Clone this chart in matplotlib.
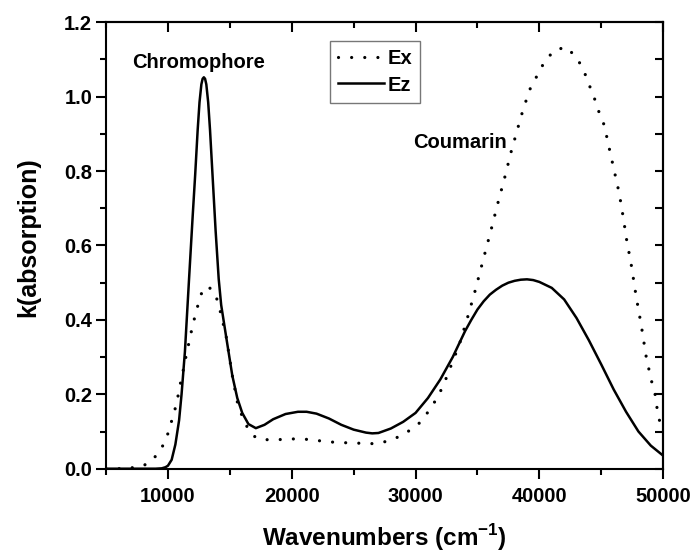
import matplotlib
matplotlib.use("Agg")
import matplotlib.pyplot as plt
from matplotlib.ticker import MultipleLocator

plt.rcParams['font.family'] = ['Liberation Sans', 'DejaVu Sans']
plt.rcParams['font.weight'] = 'bold'
plt.rcParams['mathtext.fontset'] = 'custom'
plt.rcParams['mathtext.rm'] = 'Liberation Sans:bold'
plt.rcParams['mathtext.bf'] = 'Liberation Sans:bold'

# Ez curve (solid)
wn_ez = [5000, 7000, 9000, 9500, 9800, 10000, 10300, 10600, 10900, 11100, 11370,
         11700, 12000, 12200, 12400, 12550, 12700, 12800, 12900, 13000, 13100,
         13250, 13400, 13600, 13850, 14100, 14300, 14700, 15200, 15600, 16000,
         16500, 17100, 17800, 18500, 19500, 20500, 21200, 22000, 23000, 24000,
         25000, 26000, 26500, 27000, 28000, 29000, 30000, 31000, 32000, 33000,
         33500, 34000, 34500, 35000, 35500, 36000, 36500, 37000, 37500, 38000,
         38500, 39000, 39500, 40000, 41000, 42000, 43000, 44000, 45000, 46000,
         47000, 48000, 49000, 50000]
k_ez = [0.0, 0.0, 0.0, 0.001, 0.004, 0.008, 0.024, 0.065, 0.13, 0.2, 0.314,
        0.507, 0.68, 0.79, 0.91, 0.985, 1.033, 1.048, 1.052, 1.048, 1.033,
        0.985, 0.91, 0.79, 0.64, 0.51, 0.44, 0.355, 0.25, 0.19, 0.15,
        0.12, 0.109, 0.118, 0.133, 0.147, 0.153, 0.153, 0.148, 0.135, 0.118,
        0.105, 0.097, 0.095, 0.096, 0.108, 0.126, 0.15, 0.19, 0.24, 0.30,
        0.335, 0.37, 0.40, 0.428, 0.45, 0.468, 0.481, 0.492, 0.5, 0.505,
        0.508, 0.509, 0.507, 0.502, 0.486, 0.455, 0.405, 0.345, 0.28, 0.213,
        0.153, 0.1, 0.062, 0.035]

# Ex curve (dotted)
wn_ex = [5000, 6000, 7000, 8000, 8500, 9200, 9760, 10160, 10400, 10730, 10890,
         11130, 11530, 11770, 12000, 12260, 12500, 12800, 13100, 13400, 13790,
         14110, 14350, 14680, 15200, 15600, 16000, 16500, 16850, 17300, 17820,
         18870, 19840, 20890, 22000, 23060, 24110, 25240, 26050, 27000, 28150,
         29270, 30320, 31300, 32200, 32900, 33550, 34220, 34760, 35560, 36100,
         36640, 37180, 37720, 38550, 39190, 39840, 40400, 41210, 42180, 43060,
         43630, 44030, 44440, 44840, 45240, 45650, 46050, 46450, 46800, 47020,
         47420, 47820, 48230, 48630, 49030, 49350, 49600, 50000]
k_ex = [0.0, 0.0, 0.002, 0.008, 0.017, 0.04, 0.072, 0.11, 0.142, 0.177, 0.212,
        0.247, 0.314, 0.349, 0.387, 0.418, 0.45, 0.48, 0.49, 0.485, 0.472,
        0.44, 0.405, 0.36, 0.25, 0.18, 0.14, 0.105, 0.09, 0.08, 0.078,
        0.078, 0.08, 0.08, 0.076, 0.072, 0.07, 0.069, 0.067, 0.068, 0.078,
        0.097, 0.123, 0.165, 0.22, 0.28, 0.335, 0.409, 0.472, 0.574, 0.642,
        0.713, 0.78, 0.852, 0.95, 1.017, 1.058, 1.093, 1.125, 1.133, 1.103,
        1.066, 1.031, 0.996, 0.956, 0.923, 0.86, 0.80, 0.74, 0.67, 0.62,
        0.548, 0.462, 0.385, 0.30, 0.239, 0.199, 0.14, 0.1]

fig = plt.figure(figsize=(6.93, 5.56), dpi=100)
ax = fig.add_axes([0.153, 0.157, 0.804, 0.803])

ax.plot(wn_ex, k_ex, color='black', lw=2.3, linestyle=(0, (0.01, 4.1)),
        dash_capstyle='round', label='Ex')
ax.plot(wn_ez, k_ez, color='black', lw=1.8, label='Ez')

ax.set_xlim(5000, 50000)
ax.set_ylim(0, 1.2)
ax.xaxis.set_major_locator(MultipleLocator(10000))
ax.xaxis.set_minor_locator(MultipleLocator(5000))
ax.yaxis.set_major_locator(MultipleLocator(0.2))
ax.yaxis.set_minor_locator(MultipleLocator(0.1))
ax.yaxis.set_major_formatter(plt.FormatStrFormatter('%.1f'))

for s in ax.spines.values():
    s.set_linewidth(1.5)

ax.tick_params(which='major', direction='out', length=7, width=1.5,
               labelsize=14.5, pad=3)
ax.tick_params(which='minor', direction='out', length=4, width=1.5)
ax.tick_params(axis='x', which='major', pad=6)

# mirrored ticks on top and right, pointing inward
top = ax.secondary_xaxis('top')
top.xaxis.set_major_locator(MultipleLocator(10000))
top.xaxis.set_minor_locator(MultipleLocator(5000))
top.tick_params(which='major', direction='in', length=7, width=1.5, labeltop=False)
top.tick_params(which='minor', direction='in', length=4, width=1.5)
right = ax.secondary_yaxis('right')
right.yaxis.set_major_locator(MultipleLocator(0.2))
right.yaxis.set_minor_locator(MultipleLocator(0.1))
right.tick_params(which='major', direction='in', length=5.5, width=1.5, labelright=False)
right.tick_params(which='minor', direction='in', length=5.5, width=1.5)
for s in list(top.spines.values()) + list(right.spines.values()):
    s.set_linewidth(1.5)

ax.set_xlabel(r'Wavenumbers (cm$^{-1}$)', fontsize=17.5, fontweight='bold')
ax.xaxis.set_label_coords(0.5, -0.12)
ax.set_ylabel('k(absorption)', fontsize=18, fontweight='bold')
ax.yaxis.set_label_coords(-0.118, 0.519)

ax.text(12500, 1.093, 'Chromophore', fontsize=14.5, fontweight='bold',
        ha='center', va='center')
ax.text(33550, 0.878, 'Coumarin', fontsize=14.5, fontweight='bold',
        ha='center', va='center')

leg = ax.legend(loc='upper left', bbox_to_anchor=(0.402, 0.957), borderaxespad=0,
                fancybox=False, handlelength=2.3, handletextpad=0.15,
                borderpad=0.4, labelspacing=0.35, prop={'size': 14.5, 'weight': 'bold'})
leg.get_frame().set_edgecolor('#555555')
leg.get_frame().set_linewidth(1.0)

fig.savefig('out.png', dpi=100)
